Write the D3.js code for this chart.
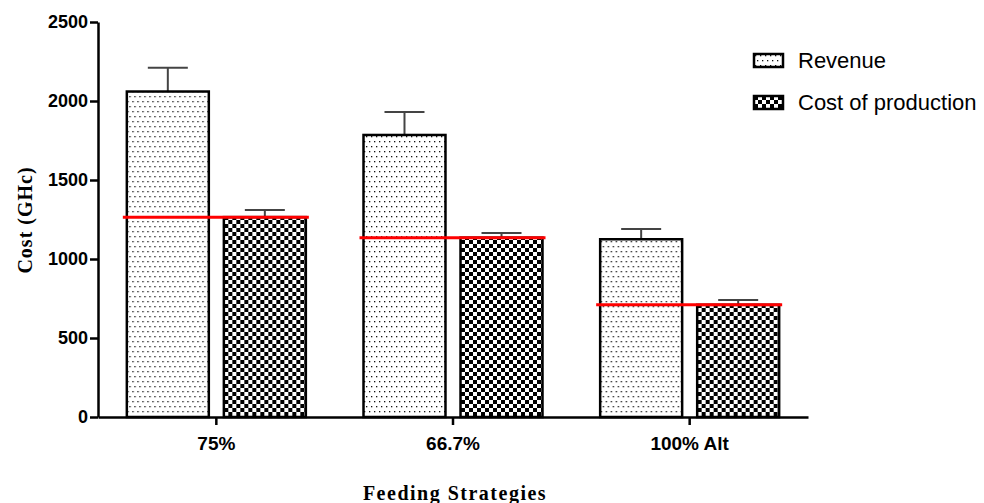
<!DOCTYPE html>
<html>
<head>
  <meta charset="utf-8" />
  <script src="https://d3js.org/d3.v7.min.js"></script>
  <style>
    body {
      margin: 0;
      background: #fff;
    }
    .tick text {
      font: bold 18px "Liberation Sans", Arial, sans-serif;
      fill: #000;
    }
    .x.axis .tick text {
      font-size: 19px;
    }
    .axis path, .axis line {
      stroke: #000;
      stroke-width: 2.5px;
    }
    .title {
      font: bold 20px "Liberation Serif", "Times New Roman", serif;
      fill: #000;
    }
    .legend text {
      font: 22px "Liberation Sans", Arial, sans-serif;
      fill: #000;
    }
  </style>
</head>
<body>
  <script>
    var categories = ["75%", "66.7%", "100% Alt"];
    var seriesNames = ["Revenue", "Cost of production"];
    var revenue = [2060, 1785, 1125];
    var revenueErr = [150, 145, 65];
    var cost = [1265, 1135, 710];
    var costErr = [45, 30, 30];
    var yTicks = [0, 500, 1000, 1500, 2000, 2500];

    var width = 984, height = 503;
    var plot = { left: 98, right: 808, top: 22, bottom: 417 };

    var svg = d3.select("body")
      .append("svg")
      .attr("width", width)
      .attr("height", height);

    var defs = svg.append("defs");

    // dotted fill for revenue
    var dots = defs.append("pattern")
      .attr("id", "dots")
      .attr("patternUnits", "userSpaceOnUse")
      .attr("width", 10)
      .attr("height", 10);
    dots.append("rect").attr("width", 10).attr("height", 10).attr("fill", "#fff");
    [[1, 1], [6, 1], [3, 6], [8, 6]].forEach(function(p) {
      dots.append("rect")
        .attr("x", p[0]).attr("y", p[1])
        .attr("width", 1.3).attr("height", 1.3)
        .attr("fill", "#111");
    });

    // checkerboard fill for cost of production
    var checks = defs.append("pattern")
      .attr("id", "checks")
      .attr("patternUnits", "userSpaceOnUse")
      .attr("width", 8)
      .attr("height", 8);
    checks.append("rect").attr("width", 8).attr("height", 8).attr("fill", "#fff");
    checks.append("rect").attr("width", 4).attr("height", 4).attr("fill", "#000");
    checks.append("rect").attr("x", 4).attr("y", 4).attr("width", 4).attr("height", 4).attr("fill", "#000");

    var fills = ["url(#dots)", "url(#checks)"];

    var x = d3.scaleBand()
      .domain(categories)
      .range([plot.left, plot.right]);

    var x1 = d3.scaleBand()
      .domain(seriesNames)
      .range([-89.5, 89.5])
      .paddingInner(0.155);

    var y = d3.scaleLinear()
      .domain([0, 2500])
      .range([plot.bottom, plot.top]);

    var data = categories.map(function(c, i) {
      return {
        cat: c,
        values: [
          { name: seriesNames[0], value: revenue[i], err: revenueErr[i] },
          { name: seriesNames[1], value: cost[i], err: costErr[i] }
        ],
        line: cost[i]
      };
    });

    function center(c) {
      return x(c) + x.bandwidth() / 2;
    }

    var groups = svg.selectAll(".grp")
      .data(data)
      .enter()
      .append("g")
      .attr("class", "grp")
      .attr("transform", function(d) {
        return `translate(${center(d.cat)} 0)`;
      });

    // error bars (drawn first so bar outline sits above)
    var err = groups.selectAll(".err")
      .data(function(d) { return d.values; })
      .enter()
      .append("g")
      .attr("class", "err")
      .style("stroke", "#444")
      .style("stroke-width", "2px");
    err.append("line")
      .attr("x1", function(d) { return x1(d.name) + x1.bandwidth() / 2; })
      .attr("x2", function(d) { return x1(d.name) + x1.bandwidth() / 2; })
      .attr("y1", function(d) { return y(d.value); })
      .attr("y2", function(d) { return y(d.value + d.err); });
    err.append("line")
      .attr("x1", function(d) { return x1(d.name) + x1.bandwidth() / 2 - 20; })
      .attr("x2", function(d) { return x1(d.name) + x1.bandwidth() / 2 + 20; })
      .attr("y1", function(d) { return y(d.value + d.err); })
      .attr("y2", function(d) { return y(d.value + d.err); });

    groups.selectAll(".bar")
      .data(function(d) { return d.values; })
      .enter()
      .append("rect")
      .attr("class", "bar")
      .attr("x", function(d) { return x1(d.name); })
      .attr("width", x1.bandwidth())
      .attr("y", function(d) { return y(d.value); })
      .attr("height", function(d) { return y(0) - y(d.value); })
      .attr("fill", function(d, i) { return fills[i]; })
      .attr("stroke", "#000")
      .attr("stroke-width", 2.5);

    // red reference line at cost level
    groups.append("line")
      .attr("x1", x1(seriesNames[0]) - 4)
      .attr("x2", x1(seriesNames[1]) + x1.bandwidth() + 3)
      .attr("y1", function(d) { return y(d.line); })
      .attr("y2", function(d) { return y(d.line); })
      .style("stroke", "#ff0000")
      .style("stroke-width", "3px");

    var yAxis = d3.axisLeft(y)
      .tickValues(yTicks)
      .tickSize(8)
      .tickSizeOuter(0)
      .tickPadding(2)
      .tickFormat(d3.format("d"));

    svg.append("g")
      .attr("class", "y axis")
      .attr("transform", `translate(${plot.left} 0)`)
      .call(yAxis);

    var xAxis = d3.axisBottom(x)
      .tickSize(8)
      .tickSizeOuter(0)
      .tickPadding(12);

    svg.append("g")
      .attr("class", "x axis")
      .attr("transform", `translate(0 ${plot.bottom})`)
      .call(xAxis);

    svg.append("text")
      .attr("class", "title")
      .attr("x", 455)
      .attr("y", 500)
      .attr("text-anchor", "middle")
      .style("letter-spacing", "1.5px")
      .text("Feeding Strategies");

    svg.append("text")
      .attr("class", "title")
      .attr("transform", "translate(32 220) rotate(-90)")
      .attr("text-anchor", "middle")
      .style("letter-spacing", "1px")
      .text("Cost (GHc)");

    var legend = svg.selectAll(".legend")
      .data(seriesNames)
      .enter()
      .append("g")
      .attr("class", "legend")
      .attr("transform", function(d, i) {
        return `translate(754 ${54 + i * 42})`;
      });
    legend.append("rect")
      .attr("width", 29)
      .attr("height", 13)
      .attr("fill", function(d, i) { return fills[i]; })
      .attr("stroke", "#000")
      .attr("stroke-width", 2.5);
    legend.append("text")
      .attr("x", 44)
      .attr("y", 14)
      .text(function(d) { return d; });
  </script>
</body>
</html>
